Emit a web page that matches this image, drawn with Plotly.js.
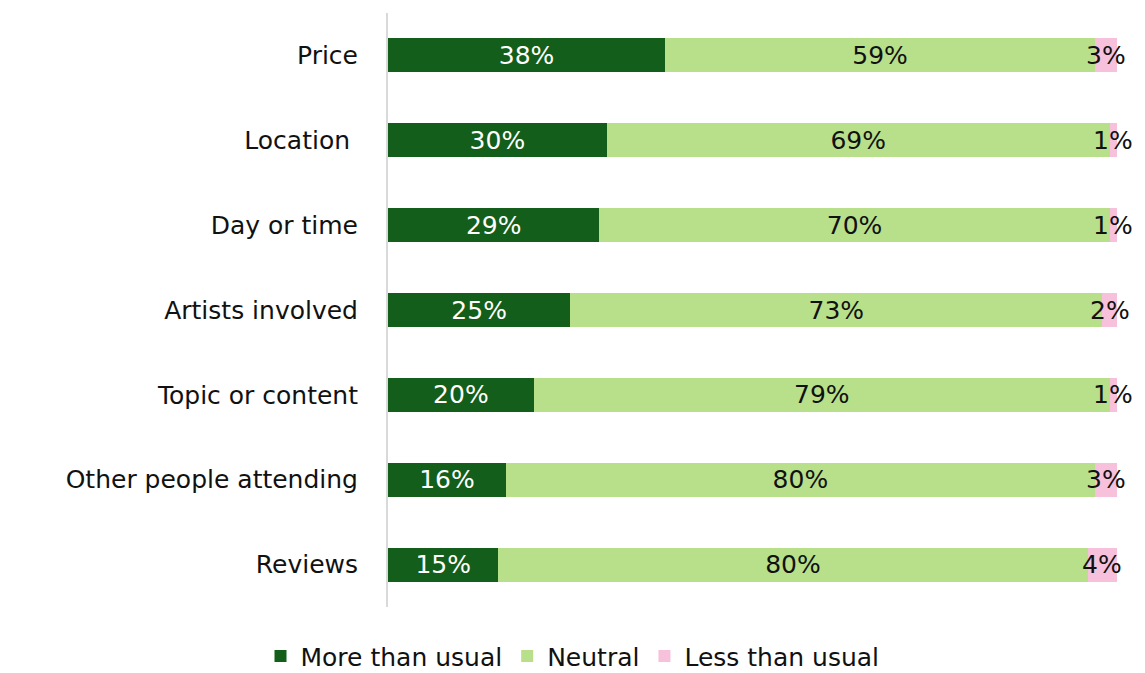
<!DOCTYPE html>
<html>
<head>
<meta charset="utf-8">
<script src="https://cdn.plot.ly/plotly-3.0.1.min.js"></script>
<style>html,body{margin:0;padding:0;background:#fff;}#chart{width:1145px;height:673px;}</style>
</head>
<body>
<div id="chart"></div>
<script>
const categories = ["Price", "Location ", "Day or time", "Artists involved", "Topic or content", "Other people attending", "Reviews"];
const moreThanUsual = [38, 30, 29, 25, 20, 16, 15];
const neutral = [59, 69, 70, 73, 79, 80, 80];
const lessThanUsual = [3, 1, 1, 2, 1, 3, 4];
const seriesNames = ["More than usual", "Neutral", "Less than usual"];
const colors = ["#125e1a", "#b8e08a", "#f7c1dc"];
const textColors = ["#ffffff", "#111111", "#111111"];

const FONT = "DejaVu Sans, sans-serif";
const FS = 25;
const series = [moreThanUsual, neutral, lessThanUsual];
const traces = series.map((vals, i) => ({
  type: "bar",
  orientation: "h",
  name: seriesNames[i],
  y: categories,
  x: vals,
  text: vals.map(v => v + "%"),
  textposition: i < 2 ? "inside" : "none",
  insidetextanchor: "middle",
  textangle: 0,
  textfont: {family: FONT, size: FS, color: textColors[i]},
  marker: {color: colors[i], line: {width: 0}},
  hoverinfo: "skip",
  cliponaxis: false
}));

// labels for the thin pink segments, centred on each segment (normalised like the bars)
const annotations = categories.map((c, k) => {
  const tot = moreThanUsual[k] + neutral[k] + lessThanUsual[k];
  const mid = (moreThanUsual[k] + neutral[k] + lessThanUsual[k] / 2) / tot * 100;
  return {
    x: mid, y: c, xref: "x", yref: "y",
    text: lessThanUsual[k] + "%", showarrow: false,
    xanchor: "center", yanchor: "middle",
    font: {family: FONT, size: FS, color: textColors[2]}
  };
});

const layout = {
  width: 1145, height: 673,
  margin: {l: 388, r: 28, t: 13, b: 66},
  paper_bgcolor: "#ffffff", plot_bgcolor: "#ffffff",
  barmode: "stack",
  barnorm: "percent",
  bargap: 0.6,
  uniformtext: {mode: "show", minsize: FS},
  font: {family: FONT, size: FS, color: "#111111"},
  xaxis: {visible: false, range: [0, 100], fixedrange: true},
  yaxis: {
    autorange: "reversed",
    showline: true, linecolor: "#d9d9d9", linewidth: 2,
    showgrid: false, zeroline: false, ticks: "",
    ticklabelstandoff: 23,
    tickfont: {family: FONT, size: FS, color: "#111111"}
  },
  annotations: annotations,
  showlegend: true,
  legend: {
    orientation: "h", traceorder: "normal", xref: "container", yref: "container",
    x: 0.5, xanchor: "center", y: 0.025, yanchor: "middle",
    font: {family: FONT, size: FS, color: "#111111"},
    itemwidth: 30
  }
};

Plotly.newPlot("chart", traces, layout, {displayModeBar: false, staticPlot: true});
</script>
</body>
</html>
